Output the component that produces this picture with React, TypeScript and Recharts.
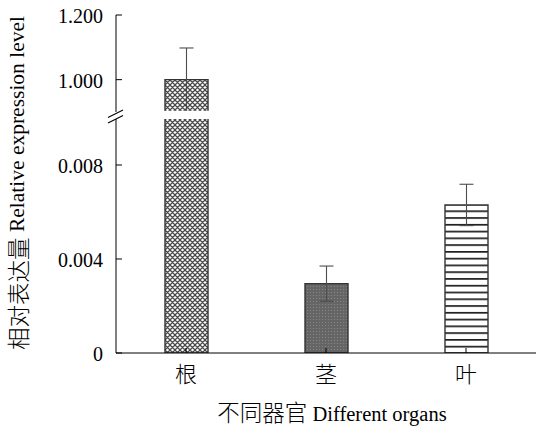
import React from 'react';
import { BarChart, Bar, XAxis, YAxis, ErrorBar, Cell } from 'recharts';

const organs = ['根', '茎', '叶'];
const expression = [1.0, 0.00295, 0.0063];
const errors = [0.098, 0.00075, 0.00088];
const upperTicks = [1.0, 1.2];
const lowerTicks = [0, 0.004, 0.008];
const patternIds = ['patRoot', 'patStem', 'patLeaf'];

const W = 536;
const H = 426;
const AXIS_X = 116;
const UPPER_MIN = 0.9;
const UPPER_MAX = 1.2;
const LOWER_MAX = 0.009957;

const FONT = 'Liberation Serif, Times New Roman, Noto Sans CJK SC, serif';
const CJK = 'Noto Sans CJK SC, Noto Sans CJK JP, sans-serif';

const upperData = organs.map((o, i) => ({
  organ: o,
  value: expression[i] >= UPPER_MIN ? expression[i] : null,
  err: expression[i] >= UPPER_MIN ? errors[i] : null,
}));
const lowerData = organs.map((o, i) => ({
  organ: o,
  value: expression[i],
  err: expression[i] <= LOWER_MAX ? errors[i] : null,
}));

const Defs = () => (
  <defs>
    <pattern id="patRoot" patternUnits="userSpaceOnUse" width="5" height="5">
      <rect x="0" y="0" width="5" height="5" fill="#ffffff" />
      <path d="M0,0 L5,5 M5,0 L0,5 M-1,4 L1,6 M4,-1 L6,1 M4,6 L6,4 M-1,1 L1,-1" stroke="#4a4a4a" strokeWidth="1.25" />
    </pattern>
    <pattern id="patStem" patternUnits="userSpaceOnUse" width="3" height="3">
      <rect x="0" y="0" width="3" height="3" fill="#656565" />
      <circle cx="1.5" cy="1.5" r="0.6" fill="#8c8c8c" />
    </pattern>
    <pattern id="patLeaf" patternUnits="userSpaceOnUse" width="10" height="6.77" y="0.5">
      <rect x="0" y="0" width="10" height="6.77" fill="#ffffff" />
      <rect x="0" y="0" width="10" height="1.7" fill="#1e1e1e" />
    </pattern>
  </defs>
);

const fmtUpper = (v: number) => v.toFixed(3);
const fmtLower = (v: number) => (v === 0 ? '0' : v.toFixed(3));

const makeYTick = (fmt: (v: number) => string) => (props: any) => {
  const { x, y, payload } = props;
  return (
    <g>
      <line x1={AXIS_X} x2={AXIS_X + 6} y1={y} y2={y} stroke="#000" strokeWidth={1} />
      <text x={x} y={y} dy={8} textAnchor="end" fontSize={20} fill="#000" fontFamily={FONT}>
        {fmt(payload.value)}
      </text>
    </g>
  );
};

const XTick = (props: any) => {
  const { x, y, payload } = props;
  return (
    <g>
      <line x1={x} x2={x} y1={y} y2={y - 5} stroke="#000" strokeWidth={1} />
      <text x={x} y={y + 29} textAnchor="middle" fontSize={22} fontWeight={300} fill="#000" fontFamily={CJK}>
        {payload.value}
      </text>
    </g>
  );
};

export default function App() {
  return (
    <div style={{ position: 'absolute', left: 0, top: 0, width: W, height: H, background: '#fff', overflow: 'hidden' }}>
      <div style={{ position: 'absolute', left: 0, top: 0 }}>
        <BarChart width={W} height={H} data={lowerData} margin={{ top: 119, right: 0, bottom: 43, left: 0 }}>
          <Defs />
          <YAxis
            width={AXIS_X}
            domain={[0, LOWER_MAX]}
            allowDataOverflow
            ticks={lowerTicks}
            axisLine={{ stroke: '#000', strokeWidth: 1 }}
            tickLine={false}
            tickSize={0}
            tickMargin={13}
            tick={makeYTick(fmtLower)}
          />
          <Bar dataKey="value" barSize={43} stroke="#333" strokeWidth={1.4} isAnimationActive={false}>
            {lowerData.map((d, i) => (
              <Cell key={d.organ} fill={`url(#${patternIds[i]})`} />
            ))}
            <ErrorBar dataKey="err" width={7} stroke="#4d4d4d" strokeWidth={1.1} />
          </Bar>
          <XAxis
            dataKey="organ"
            height={30}
            axisLine={{ stroke: '#000', strokeWidth: 1 }}
            tickLine={false}
            tickSize={0}
            tickMargin={0}
            tick={XTick}
            interval={0}
          />
        </BarChart>
      </div>
      <div style={{ position: 'absolute', left: 0, top: 0 }}>
        <BarChart width={W} height={H} data={upperData} margin={{ top: 15, right: 0, bottom: H - 112, left: 0 }}>
          <Defs />
          <XAxis dataKey="organ" hide />
          <YAxis
            width={AXIS_X}
            domain={[UPPER_MIN, UPPER_MAX]}
            allowDataOverflow
            ticks={upperTicks}
            axisLine={{ stroke: '#000', strokeWidth: 1 }}
            tickLine={false}
            tickSize={0}
            tickMargin={13}
            tick={makeYTick(fmtUpper)}
          />
          <Bar dataKey="value" barSize={43} stroke="#333" strokeWidth={1.4} isAnimationActive={false}>
            {upperData.map((d, i) => (
              <Cell key={d.organ} fill={`url(#${patternIds[i]})`} />
            ))}
            <ErrorBar dataKey="err" width={7} stroke="#4d4d4d" strokeWidth={1.1} />
          </Bar>
        </BarChart>
      </div>
      <svg width={W} height={H} style={{ position: 'absolute', left: 0, top: 0, pointerEvents: 'none' }}>
        <rect x={AXIS_X - 2} y={112.5} width={4} height={6} fill="#fff" />
        <rect x={163} y={110.8} width={46} height={2.2} fill="#fff" />
        <line x1={108} y1={117.5} x2={123} y2={110} stroke="#000" strokeWidth={1.2} />
        <line x1={108} y1={123} x2={123} y2={115.5} stroke="#000" strokeWidth={1.2} />
        <text
          transform="translate(17,183) rotate(-90)"
          textAnchor="middle"
          dominantBaseline="central"
          fill="#000"
          fontFamily={FONT}
        >
          <tspan fontSize={22.5} fontFamily={CJK} fontWeight={300}>相对表达量</tspan>
          <tspan fontSize={21.5}> Relative expression level</tspan>
        </text>
        <text x={332} y={421} textAnchor="middle" fill="#000" fontFamily={FONT}>
          <tspan fontSize={22.5} fontFamily={CJK} fontWeight={300}>不同器官</tspan>
          <tspan fontSize={20.5}> Different organs</tspan>
        </text>
      </svg>
    </div>
  );
}
